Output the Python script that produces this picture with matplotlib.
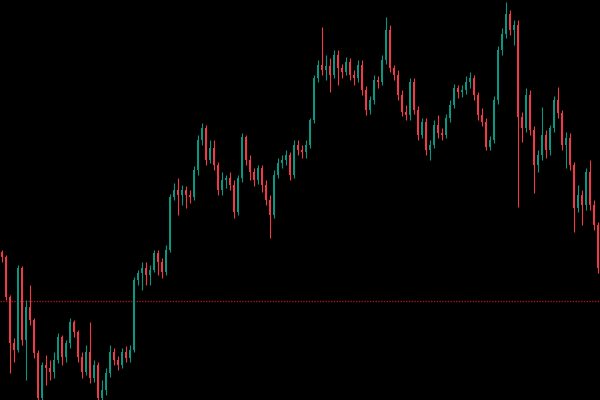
import numpy as np
import matplotlib
matplotlib.use("Agg")
import matplotlib.pyplot as plt

# price data (one candle per bar, open = previous close)
first_open = 148
closes = [143, 103, 57, 50, 132, 60, 93, 80, 47, 2,
          35, 32, 28, 40, 63, 43, 57, 78, 68, 43,
          28, 48, 22, 35, 2, 10, 27, 48, 40, 35,
          48, 42, 50, 120, 127, 132, 125, 130, 147, 138,
          128, 150, 203, 210, 205, 210, 205, 203, 230, 260,
          272, 240, 252, 235, 210, 220, 222, 215, 188, 222,
          263, 240, 228, 220, 232, 215, 200, 185, 225, 237,
          240, 245, 225, 255, 250, 248, 255, 280, 322, 335,
          330, 334, 325, 345, 332, 328, 338, 325, 322, 335,
          310, 290, 300, 320, 318, 340, 370, 332, 325, 305,
          288, 285, 318, 290, 265, 278, 250, 255, 275, 267,
          265, 282, 295, 312, 308, 310, 318, 322, 305, 285,
          278, 253, 260, 300, 350, 366, 386, 370, 375, 283,
          272, 305, 270, 235, 245, 265, 250, 272, 300, 287,
          255, 262, 235, 192, 205, 195, 228, 195, 175, 132]
highs = [150, 145, 105, 62, 135, 134, 100, 115, 82, 50,
         38, 45, 40, 48, 67, 65, 60, 82, 80, 70,
         48, 55, 78, 40, 38, 20, 32, 55, 52, 44,
         52, 54, 55, 123, 130, 138, 138, 135, 150, 150,
         142, 155, 206, 217, 222, 215, 214, 210, 234, 265,
         277, 275, 260, 260, 238, 228, 225, 228, 220, 225,
         267, 265, 245, 232, 235, 235, 220, 205, 230, 242,
         245, 250, 248, 260, 260, 255, 260, 282, 325, 340,
         373, 345, 342, 350, 350, 336, 343, 342, 330, 340,
         340, 314, 304, 325, 324, 345, 383, 375, 335, 330,
         310, 295, 322, 322, 294, 282, 282, 260, 280, 285,
         272, 286, 300, 316, 315, 315, 324, 328, 325, 308,
         292, 282, 264, 304, 354, 372, 398, 390, 380, 380,
         288, 312, 310, 274, 250, 293, 270, 275, 304, 313,
         290, 268, 267, 238, 215, 210, 232, 240, 200, 178]
lows = [138, 100, 27, 38, 48, 55, 20, 75, 42, 0,
        0, 15, 20, 22, 37, 35, 38, 52, 63, 38,
        22, 25, 17, 18, 0, 0, 5, 23, 35, 30,
        32, 38, 38, 48, 115, 110, 115, 115, 128, 125,
        122, 125, 148, 200, 185, 195, 192, 197, 200, 225,
        255, 235, 237, 230, 205, 205, 212, 210, 182, 185,
        218, 235, 220, 214, 216, 208, 195, 162, 182, 222,
        232, 235, 220, 222, 245, 242, 242, 252, 277, 318,
        325, 320, 308, 322, 315, 322, 325, 320, 315, 318,
        305, 285, 286, 296, 312, 315, 336, 328, 320, 300,
        284, 280, 280, 286, 260, 262, 245, 240, 252, 262,
        260, 262, 278, 292, 302, 303, 306, 312, 300, 280,
        274, 250, 250, 257, 296, 345, 362, 365, 355, 193,
        258, 268, 265, 207, 228, 240, 242, 245, 268, 282,
        250, 232, 230, 168, 188, 175, 190, 190, 170, 127]
level = 99

closes = np.array(closes, dtype=float)
opens = np.concatenate([[first_open], closes[:-1]])
highs = np.array(highs, dtype=float)
lows = np.array(lows, dtype=float)
x = np.arange(len(closes))

up_col = "#0e9581"
down_col = "#ef3a48"
colors = np.where(closes >= opens, up_col, down_col)

fig = plt.figure(figsize=(6, 4), dpi=100, facecolor="black")
ax = fig.add_axes([0, 0, 1, 1])
ax.set_facecolor("black")

# dotted reference level
ax.axhline(level, color="#a01822", lw=1.0, ls=(0, (1, 1)), zorder=1)

ax.vlines(x, lows, highs, colors=colors, lw=0.8, zorder=2)
ax.bar(x, np.abs(closes - opens), bottom=np.minimum(opens, closes),
       width=0.7, color=colors, linewidth=0, zorder=3)

ax.set_xlim(-0.5, len(closes) - 0.5)
ax.set_ylim(0, 400)
ax.axis("off")

fig.savefig("out.png", dpi=100, facecolor="black")
